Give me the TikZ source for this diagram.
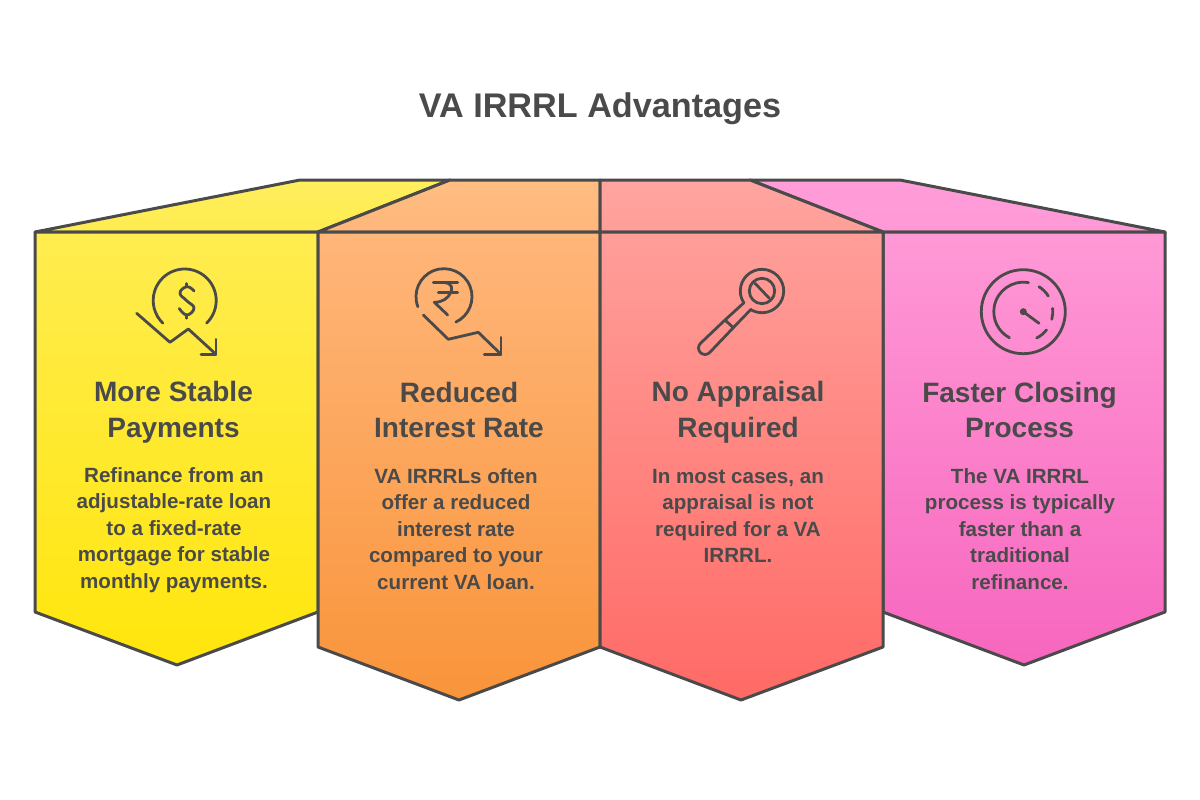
\documentclass[tikz,border=0pt]{standalone}
\usepackage{fontspec}
\setmainfont{Liberation Sans}
\definecolor{ink}{HTML}{4A4A4A}
\definecolor{yA}{HTML}{FFEE5E}\definecolor{yB}{HTML}{FFEC50}\definecolor{yC}{HTML}{FFE60C}
\definecolor{oA}{HTML}{FFBE82}\definecolor{oB}{HTML}{FFB67A}\definecolor{oC}{HTML}{F9943A}
\definecolor{rA}{HTML}{FFA5A0}\definecolor{rB}{HTML}{FF9E99}\definecolor{rC}{HTML}{FF6A66}
\definecolor{pA}{HTML}{FF9DD9}\definecolor{pB}{HTML}{FF99D6}\definecolor{pC}{HTML}{F766BE}
\tikzset{
  panel/.style={draw=ink,line width=3pt,line join=round},
  iconline/.style={draw=ink,line width=2.8pt,line cap=round,line join=round},
  headtext/.style={text=ink,align=center,font=\fontsize{28}{35.5}\selectfont\bfseries,inner sep=0pt},
  bodytext/.style={text=ink,align=center,font=\fontsize{20.6}{26.5}\selectfont\bfseries,inner sep=0pt},
}
\newcommand\ringarc[5]{\draw[iconline] (#1,#2) ++(#4:#3) arc[start angle=#4,end angle=#5,radius=#3 pt];}
\begin{document}
\begin{tikzpicture}[x=1pt,y=1pt,yscale=-1]
\useasboundingbox (0,0) rectangle (1200,800);
\fill[white] (0,0) rectangle (1200,800);
% panel 1
\path[panel,top color=yA,bottom color=yB] (35,232) -- (300,180) -- (450,180) -- (318,232) -- cycle;
\path[panel,top color=yB,bottom color=yC] (35,232) -- (318,232) -- (318,612) -- (177,665) -- (35,612) -- cycle;
% panel 4
\path[panel,top color=pA,bottom color=pB] (750,180) -- (900,180) -- (1165,232) -- (883,232) -- cycle;
\path[panel,top color=pB,bottom color=pC] (883,232) -- (1165,232) -- (1165,612) -- (1024,665) -- (883,612) -- cycle;
% panel 2
\path[panel,top color=oA,bottom color=oB] (318,232) -- (450,180) -- (600,180) -- (600,232) -- cycle;
\path[panel,top color=oB,bottom color=oC] (318,232) -- (600,232) -- (600,647) -- (459,700) -- (318,647) -- cycle;
% panel 3
\path[panel,top color=rA,bottom color=rB] (600,180) -- (750,180) -- (883,232) -- (600,232) -- cycle;
\path[panel,top color=rB,bottom color=rC] (600,232) -- (883,232) -- (883,647) -- (741,700) -- (600,647) -- cycle;
% icon 1
\ringarc{184.7}{300.5}{31.5}{46}{-226}
\draw[iconline] plot[smooth,tension=0.8] coordinates {(194,291) (187,286.7) (180,293) (186.7,300.7) (194,308) (186.7,315) (179.3,308.5)};
\draw[iconline] (186.7,283.5) -- (186.7,286.7) (186.7,315) -- (186.7,318.3);
\draw[iconline] (136.7,313.3) -- (170,342.3) -- (188.3,329) -- (216,354.3);
\draw[iconline] (216,339.3) -- (216,354.3) -- (201,354.3);
% icon 2
\ringarc{444}{296.7}{28}{159}{425}
\draw[iconline] (433.3,282.7) -- (457.7,282.7) (438.3,292.7) -- (457.7,292.7);
\draw[iconline] (445,282.7) .. controls (452,283) and (453,289) .. (450.5,293) .. controls (448,298.5) and (442,302.3) .. (434.3,302.3) -- (447.7,315);
\draw[iconline] (423.3,315) -- (448.3,339.3) -- (478.3,332.3) -- (501,354.3);
\draw[iconline] (501,337.3) -- (501,354.3) -- (484.3,354.3);
% icon 3
\ringarc{762}{291}{21.7}{147}{481}
\ringarc{762}{291}{12.7}{0}{360}
\draw[iconline] (755,283.3) -- (769.3,298.3);
\draw[iconline] (744,302.7) -- (725,320) (751,309.3) -- (733.3,327.7);
\draw[iconline] (725,320) -- (733.3,327.7) -- (709.6,352.6) arc[start angle=45,end angle=225,radius=6.5pt] -- cycle;
% icon 4
\ringarc{1023.3}{311.7}{42}{0}{360}
\ringarc{1023.3}{311.7}{29.5}{-80}{-242}
\ringarc{1023.3}{311.7}{29.5}{-58}{-32}
\ringarc{1023.3}{311.7}{29.5}{-6.5}{15}
\ringarc{1023.3}{311.7}{29.5}{38}{63}
\draw[iconline] (1023.3,311.7) -- (1039,323.3);
\fill[ink] (1023.3,311.7) circle[radius=3.5pt];
% text
\node[text=ink,font=\fontsize{34.2}{42}\selectfont\bfseries,inner sep=0pt] (title) at (600,108.5) {VA IRRRL Advantages};
\node[headtext] (h1) at (173.5,412.5) {More Stable\\Payments};
\node[headtext] (h2) at (459,410) {Reduced\\Interest Rate};
\node[headtext] (h3) at (738,412.5) {No Appraisal\\Required};
\node[headtext] (h4) at (1019.5,410) {Faster Closing\\Process};
\node[bodytext] (b1) at (174,530) {Refinance from an\\adjustable-rate loan\\to a fixed-rate\\mortgage for stable\\monthly payments.};
\node[bodytext] (b2) at (456,529) {VA IRRRLs often\\offer a reduced\\interest rate\\compared to your\\current VA loan.};
\node[bodytext] (b3) at (738,516) {In most cases, an\\appraisal is not\\required for a VA\\IRRRL.};
\node[bodytext] (b4) at (1020,529) {The VA IRRRL\\process is typically\\faster than a\\traditional\\refinance.};
\end{tikzpicture}
\end{document}
